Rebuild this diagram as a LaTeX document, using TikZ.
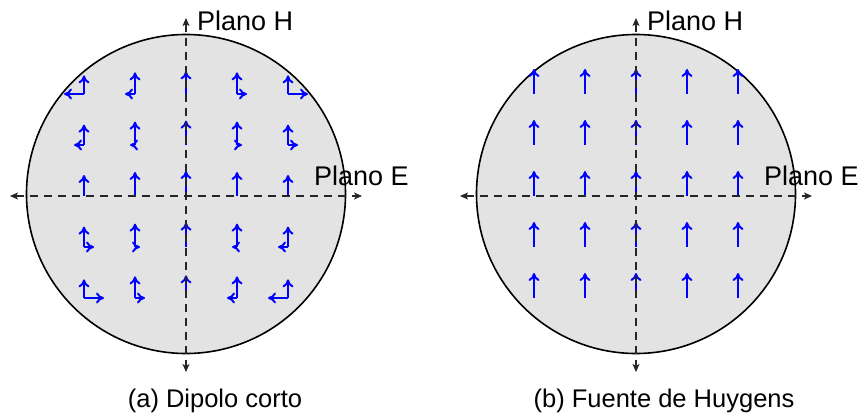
\documentclass[tikz,border=0pt]{standalone}
\usepackage{fontspec}
\setmainfont{Liberation Sans}
\usetikzlibrary{arrows.meta}
\begin{document}
\begin{tikzpicture}[x=1pt,y=-1pt,
  disk/.style={circle, draw=black, line width=1.6pt, fill=black!11, minimum size=319pt, inner sep=0pt},
  axisline/.style={draw=black!85, line width=1.6pt, dash pattern=on 8pt off 6pt,
     {Stealth[length=8pt,width=7pt,inset=2pt]}-{Stealth[length=8pt,width=7pt,inset=2pt]}},
  fieldarrow/.style={draw=blue, line width=2pt, -{To[length=8pt,width=11pt]}},
  planelabel/.style={anchor=base west, inner sep=0pt, font=\fontsize{27}{30}\selectfont},
  capt/.style={anchor=base, inner sep=0pt, font=\fontsize{25.5}{28}\selectfont}]
\useasboundingbox (0,0) rectangle (864,415);

% ---------- (a) Dipolo corto ----------
\node[disk] (diskA) at (186,194) {};
\foreach \i in {-2,...,2} {
  \foreach \j in {-2,...,2} {
    \pgfmathsetmacro\hh{5*\i*\j}
    \pgfmathsetmacro\vv{25-\i*\i-0.6*\j*\j}
    \coordinate (oA) at (186+51*\i, 196-51*\j);
    \draw[fieldarrow] (oA) -- ++(0,-\vv);
    \ifdim\hh pt=0pt \else
      \draw[fieldarrow] (oA) -- ++(\hh,0);
    \fi
  }
}
\coordinate (aL) at (10,196);
\coordinate (aR) at (362,196);
\coordinate (aT) at (186,18);
\coordinate (aB) at (186,372);
\draw[axisline] (aL) -- (aR);
\draw[axisline] (aT) -- (aB);
\node[planelabel] (hA) at (197,30) {Plano H};
\node[planelabel] (eA) at (314,185) {Plano E};
\node[capt] (capA) at (215,407) {(a) Dipolo corto};

% ---------- (b) Fuente de Huygens ----------
\node[disk] (diskB) at (636,194) {};
\foreach \i in {-2,...,2} {
  \foreach \j in {-2,...,2} {
    \coordinate (oB) at (636+51*\i, 196-51*\j);
    \draw[fieldarrow] (oB) -- ++(0,-25);
  }
}
\coordinate (bL) at (460,196);
\coordinate (bR) at (812,196);
\coordinate (bT) at (636,18);
\coordinate (bB) at (636,372);
\draw[axisline] (bL) -- (bR);
\draw[axisline] (bT) -- (bB);
\node[planelabel] (hB) at (647,30) {Plano H};
\node[planelabel] (eB) at (764,185) {Plano E};
\node[capt] (capB) at (664,407) {(b) Fuente de Huygens};
\end{tikzpicture}
\end{document}
